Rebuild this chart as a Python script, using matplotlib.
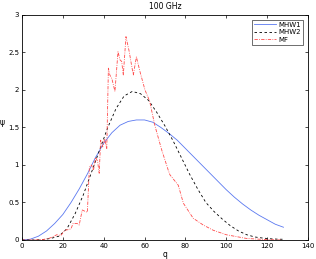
import numpy as np
import matplotlib
matplotlib.use("Agg")
import matplotlib.pyplot as plt

# MHW1 (solid blue)
q_mhw1 = [0, 4, 8, 12, 16, 20, 24, 28, 32, 36, 40, 44, 48, 52, 56, 60, 64, 68,
          72, 76, 80, 84, 88, 92, 96, 100, 104, 108, 112, 116, 120, 124, 128]
psi_mhw1 = [0, 0.01, 0.05, 0.12, 0.22, 0.34, 0.5, 0.68, 0.88, 1.1, 1.29, 1.43,
            1.53, 1.58, 1.6, 1.6, 1.57, 1.5, 1.42, 1.33, 1.22, 1.11, 1.0, 0.89,
            0.78, 0.67, 0.57, 0.48, 0.4, 0.33, 0.27, 0.21, 0.17]

# MHW2 (dashed black)
q_mhw2 = [0, 5, 10, 14, 18, 22, 26, 30, 34, 38, 42, 46, 50, 54, 58, 62, 66, 70,
          74, 78, 82, 86, 90, 94, 98, 102, 106, 110, 114, 118, 122, 126, 128]
psi_mhw2 = [0, 0, 0.005, 0.02, 0.05, 0.15, 0.35, 0.6, 0.9, 1.2, 1.5, 1.75,
            1.92, 1.98, 1.95, 1.86, 1.7, 1.52, 1.32, 1.1, 0.88, 0.68, 0.5,
            0.38, 0.28, 0.19, 0.12, 0.07, 0.04, 0.025, 0.015, 0.01, 0.01]

# MF (dash-dot red)
q_mf = [0, 5, 10, 13, 15, 17, 19, 21, 23, 24, 25, 27, 28, 29.5, 31, 32, 33, 34,
        35, 36, 37, 37.8, 38.5, 39.5, 40.5, 41.5, 42.3, 43, 44, 45.5, 47, 48,
        48.8, 49.6, 50.9, 52.5, 53.5, 54.5, 56, 57.8, 60.2, 62.5, 65, 68.4,
        71.6, 72.4, 76.5, 79, 83.8, 88.7, 93.6, 100, 110, 120, 127]
psi_mf = [0, 0, 0.005, 0.02, 0.04, 0.07, 0.06, 0.13, 0.14, 0.15, 0.22, 0.22,
          0.2, 0.4, 0.38, 0.37, 0.97, 1.0, 0.93, 1.1, 1.05, 0.89, 1.33, 1.24,
          1.35, 1.22, 2.29, 2.2, 2.15, 1.98, 2.51, 2.4, 2.38, 2.2, 2.71, 2.51,
          2.35, 2.2, 2.44, 2.24, 2.0, 1.85, 1.53, 1.2, 0.93, 0.87, 0.73, 0.49,
          0.29, 0.2, 0.13, 0.07, 0.02, 0.005, 0]

x_ticks = [0, 20, 40, 60, 80, 100, 120, 140]
y_ticks = [0, 0.5, 1, 1.5, 2, 2.5, 3]

fig = plt.figure(figsize=(3.16, 2.59), dpi=100)
ax = fig.add_axes([0.0696, 0.0734, 0.905, 0.869])

ax.plot(q_mhw1, psi_mhw1, '-', color='#5a78f0', lw=0.6, label='MHW1')
ax.plot(q_mhw2, psi_mhw2, '--', color='black', lw=0.6, dashes=(3, 3), label='MHW2')
ax.plot(q_mf, psi_mf, '-.', color='#ff4a4a', lw=0.6, dashes=(4, 1.5, 1, 1.5), label='MF')

ax.set_xlim(0, 140)
ax.set_ylim(0, 3)
ax.set_xticks(x_ticks)
ax.set_yticks(y_ticks)
ax.set_xticklabels([str(t) for t in x_ticks])
ax.set_yticklabels(['0', '0.5', '1', '1.5', '2', '2.5', '3'])
ax.tick_params(direction='in', length=2.5, width=0.5, labelsize=5,
               top=True, right=True, pad=2)
for s in ax.spines.values():
    s.set_linewidth(0.6)

ax.set_title('100 GHz', fontsize=5.5, pad=4)
ax.set_xlabel('q', fontsize=5.5, labelpad=1)
ax.set_ylabel('ψ', fontsize=5.5, rotation=0, labelpad=4)

leg = ax.legend(loc='upper right', fontsize=5, frameon=True, fancybox=False,
                edgecolor='black', handlelength=3.2, borderpad=0.3,
                labelspacing=0.2, handletextpad=0.3, borderaxespad=0.7)
leg.get_frame().set_linewidth(0.5)

fig.savefig('out.png', dpi=100)
